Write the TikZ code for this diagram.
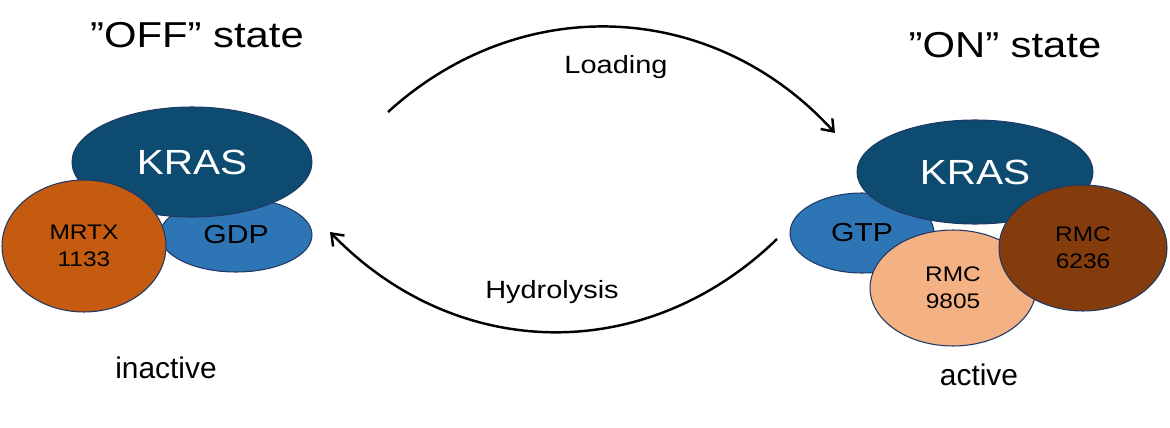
\documentclass[tikz,border=0pt]{standalone}
\usepackage{fontspec}
\setmainfont{Liberation Sans}
\newfontfamily\widefont[FakeStretch=1.16]{Liberation Sans}
\usetikzlibrary{shapes.geometric,arrows.meta}

\definecolor{krasblue}{RGB}{13,76,112}
\definecolor{nucblue}{RGB}{46,117,182}
\definecolor{mrtxorange}{RGB}{197,90,17}
\definecolor{rmcpeach}{RGB}{244,177,131}
\definecolor{rmcbrown}{RGB}{132,60,12}
\definecolor{rimblue}{RGB}{32,56,100}

\begin{document}
\begin{tikzpicture}[
  x=0.02cm, y=0.02cm,
  blob/.style={ellipse, draw=rimblue, line width=0.6pt, inner sep=0pt, align=center},
  protein/.style={blob, fill=krasblue, text=white, font=\widefont\fontsize{19.9}{24}\selectfont},
  nucleotide/.style={blob, fill=nucblue, font=\widefont\fontsize{14.8}{18}\selectfont},
  inhibitor/.style={blob, font=\widefont\fontsize{12}{15.4}\selectfont},
  title/.style={anchor=base, font=\widefont\fontsize{20.5}{24}\selectfont},
  caption/.style={anchor=base, font=\fontsize{17}{20}\selectfont},
  lbl/.style={font=\widefont\fontsize{14.2}{17}\selectfont},
  arrow/.style={-{Straight Barb[length=6pt,width=9pt]}, line width=1.4pt}
]
\useasboundingbox (0,0) rectangle (1170,427);

% "OFF" state (left)
\node[title] (offtitle) at (197,379) {”OFF” state};
\node[nucleotide, minimum width=3.04cm, minimum height=1.48cm] (gdp) at (236,192) {GDP};
\node[protein, minimum width=4.8cm, minimum height=2.2cm] (krasoff) at (192,265) {KRAS};
\node[inhibitor, fill=mrtxorange, minimum width=3.28cm, minimum height=2.64cm] (mrtx) at (84,181) {MRTX\\1133};
\node[caption] (inactive) at (166,49) {inactive};

% "ON" state (right)
\node[title] (ontitle) at (1005,370) {”ON” state};
\node[nucleotide, minimum width=2.88cm, minimum height=1.6cm] (gtp) at (862,194) {GTP};
\node[protein, minimum width=4.72cm, minimum height=2.08cm] (krason) at (975,255) {KRAS};
\node[inhibitor, fill=rmcpeach, minimum width=3.32cm, minimum height=2.32cm] (rmcnine) at (953,139) {RMC\\9805};
\node[inhibitor, fill=rmcbrown, minimum width=3.36cm, minimum height=2.52cm] (rmcsix) at (1083,179) {RMC\\6236};
\node[caption] (active) at (979,42) {active};

% Arrows
\coordinate (loadstart) at (388,315);
\coordinate (loadend) at (835,294);
\coordinate (hydstart) at (777,188);
\coordinate (hydend) at (330,195);
\draw[arrow] (loadstart) to[bend left=45, looseness=1.03] node[midway, yshift=-0.8cm, lbl] {Loading} (loadend);
\draw[arrow] (hydstart) to[bend left=45, looseness=1.04] node[midway, yshift=0.8cm, lbl] {Hydrolysis} (hydend);

\end{tikzpicture}
\end{document}
